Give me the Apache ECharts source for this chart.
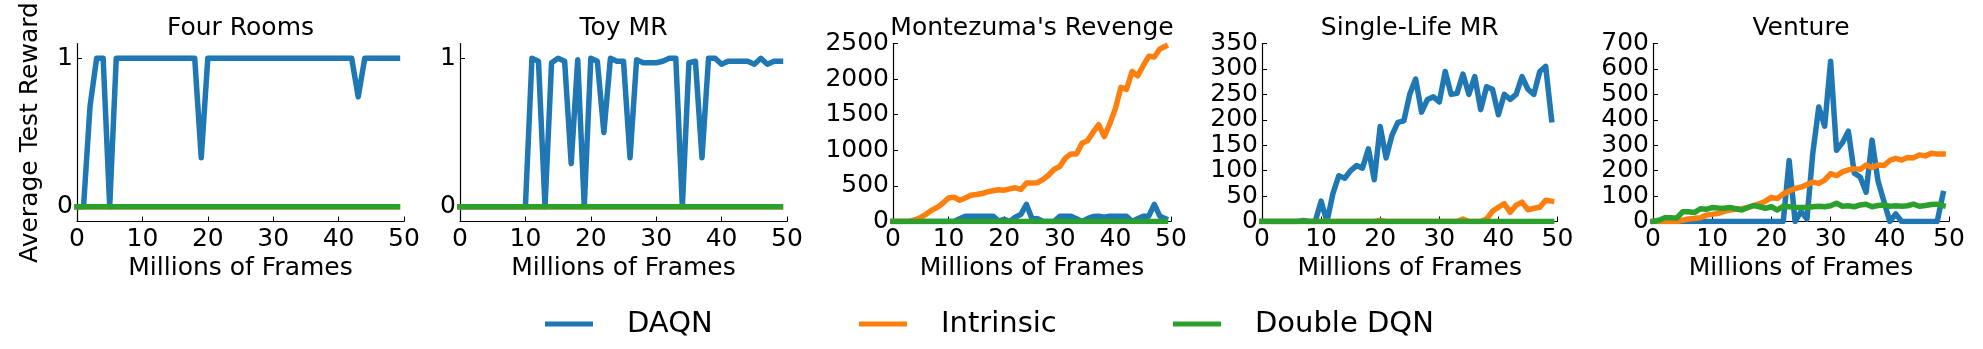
<!doctype html>
<html lang="en">
<head>
<meta charset="UTF-8">
<title>DAQN results</title>
<script src="https://cdn.jsdelivr.net/npm/echarts@6/dist/echarts.min.js"></script>
<style>
  html, body { margin: 0; padding: 0; background: #fff; }
  #main { width: 1983px; height: 349px; }
</style>
</head>
<body>
<div id="main"></div>
<script type="text/javascript">
// frames (millions) at which the agents were evaluated
var frames = [0,1,2,3,4,5,6,7,8,9,10,11,12,13,14,15,16,17,18,19,20,21,22,23,24,
              25,26,27,28,29,30,31,32,33,34,35,36,37,38,39,40,41,42,43,44,45,46,47,48,49];
var xTicks = [0, 10, 20, 30, 40, 50];

var zeros = [0,0,0,0,0,0,0,0,0,0, 0,0,0,0,0,0,0,0,0,0, 0,0,0,0,0,0,0,0,0,0,
             0,0,0,0,0,0,0,0,0,0, 0,0,0,0,0,0,0,0,0,0];

// Four Rooms
var fourRoomsDaqn = [0,0,0.68,1,1,0,1,1,1,1, 1,1,1,1,1,1,1,1,1,0.33, 1,1,1,1,1,1,1,1,1,1,
                     1,1,1,1,1,1,1,1,1,1, 1,1,1,0.74,1,1,1,1,1,1];
// Toy MR
var toyDaqn = [0,0,0,0,0,0,0,0,0,0, 0,1,0.98,0,0.97,1,0.98,0.29,0.99,0, 1,0.98,0.5,1,0.98,0.98,0.33,0.99,0.97,0.97,
               0.97,0.98,1,1,0,0.97,0.98,0.33,1,1, 0.96,0.98,0.98,0.98,0.98,0.96,1,0.96,0.98,0.98];
// Montezuma's Revenge
var mrDaqn = [0,0,0,0,0,0,0,0,0,0, 0,0,40,75,75,75,75,75,75,5, 30,0,60,100,240,40,40,0,0,0,
              75,75,75,40,0,40,70,75,60,75, 75,75,75,0,40,75,75,240,75,40];
var mrIntrinsic = [0,0,0,5,24,57,104,160,199,260, 331,341,298,331,369,379,393,417,431,445,
                   440,459,473,450,540,540,545,592,653,734, 772,890,947,947,1098,1136,1255,1359,1193,1373,
                   1586,1885,1856,2107,2045,2188,2320,2311,2424,2462];
// Single-Life MR
var slDaqn = [0,0,0,0,0,0,0,2,0,0, 40,0,55,90,85,100,110,105,143,82, 187,125,170,195,198,250,280,215,240,245,
              235,295,250,252,290,250,285,220,265,260, 210,250,240,250,285,260,250,295,305,200];
var slIntrinsic = [0,0,0,0,0,0,0,0,0,0, 0,0,0,0,0,0,0,0,0,0, 2,0,0,0,0,0,0,0,0,0,
                   0,0,0,0,5,0,0,0,5,20, 28,35,18,32,38,23,26,28,42,40];
// Venture
var ventDaqn = [0,0,0,0,0,0,0,0,0,0, 0,0,0,0,0,0,0,0,0,0, 0,0,0,240,0,40,10,270,450,375,
                630,280,310,355,190,175,115,320,160,80, 0,30,0,0,0,0,0,0,0,110];
var ventIntrinsic = [0,0,0,0,0,5,10,12,15,25, 28,32,40,45,48,50,55,62,70,80, 95,90,108,120,130,135,145,155,150,163,
                     188,180,195,203,208,205,222,212,222,220, 240,248,242,252,250,262,258,268,265,265];
var ventDouble = [0,5,15,15,13,38,38,35,50,48, 55,53,52,55,50,45,55,63,58,52, 58,45,60,58,56,55,55,58,60,58,
                  62,72,60,62,58,65,68,58,63,65, 60,62,60,62,68,60,63,67,68,62];

var titles = ['Four Rooms', 'Toy MR', "Montezuma's Revenge", 'Single-Life MR', 'Venture'];
var yMax = [1.1, 1.1, 2500, 350, 700];
var yMin = [-0.1, -0.1, 0, 0, 0];
var yStep = [1, 1, 500, 50, 100];
var panelData = [
    [fourRoomsDaqn, zeros, zeros],
    [toyDaqn, zeros, zeros],
    [mrDaqn, mrIntrinsic, zeros],
    [slDaqn, slIntrinsic, zeros],
    [ventDaqn, ventIntrinsic, ventDouble]
];
var seriesNames = ['DAQN', 'Intrinsic', 'Double DQN'];
var colors = ['#1f77b4', '#ff7f0e', '#2ca02c'];

// plot boxes (left, width) in pixels
var boxLeft = [77, 460, 893, 1262, 1653];
var boxWidth = [327, 327, 278, 295.5, 296];
var boxTop = 43.5, boxHeight = 178;

var font = 'DejaVu Sans';

function pts(vals) {
    return frames.map(function (f, i) { return [f, vals[i]]; });
}
function plain(v) { return String(v); }

var grid = [], xAxis = [], yAxis = [], series = [], title = [];
for (var p = 0; p < 5; p++) {
    grid.push({left: boxLeft[p], top: boxTop, width: boxWidth[p], height: boxHeight});
    title.push({
        text: titles[p],
        left: boxLeft[p] + boxWidth[p] / 2,
        top: 16,
        textAlign: 'center',
        padding: 0,
        textStyle: {fontFamily: font, fontSize: 25, fontWeight: 'normal', color: '#000'}
    });
    xAxis.push({
        type: 'value', gridIndex: p, min: 0, max: 50, interval: 10,
        name: 'Millions of Frames', nameLocation: 'middle', nameGap: 34,
        nameTextStyle: {fontFamily: font, fontSize: 25, color: '#000'},
        axisLine: {onZero: false, lineStyle: {color: '#000', width: 1.2}},
        axisTick: {inside: true, length: 5, lineStyle: {color: '#000'}},
        axisLabel: {fontFamily: font, fontSize: 25, color: '#000', margin: 5, formatter: plain},
        splitLine: {show: false}
    });
    var y = {
        type: 'value', gridIndex: p, min: yMin[p], max: yMax[p],
        axisLine: {show: true, onZero: false, lineStyle: {color: '#000', width: 1.2}},
        axisTick: {show: true, inside: true, length: 5, lineStyle: {color: '#000'}},
        axisLabel: {fontFamily: font, fontSize: 25, color: '#000', margin: 4, formatter: plain},
        splitLine: {show: false}
    };
    if (p < 2) {
        y.axisLabel.customValues = [0, 1];
        y.axisTick.customValues = [0, 1];
    } else {
        y.interval = yStep[p];
    }
    if (p === 0) {
        y.name = 'Average Test Reward';
        y.nameLocation = 'middle';
        y.nameGap = 34;
        y.nameTextStyle = {fontFamily: font, fontSize: 25, color: '#000'};
    }
    yAxis.push(y);
    for (var s = 0; s < 3; s++) {
        series.push({
            name: seriesNames[s], type: 'line', xAxisIndex: p, yAxisIndex: p,
            data: pts(panelData[p][s]),
            showSymbol: false, symbol: 'none',
            color: colors[s],
            lineStyle: {width: 5.5, color: colors[s], join: 'round', cap: 'square'}
        });
    }
}

var legendLeft = [545, 859, 1173];
var legend = legendLeft.map(function (x, i) {
    return {
        data: [seriesNames[i]], left: x, top: 307, padding: 0,
        icon: 'rect', itemWidth: 48, itemHeight: 5,
        textStyle: {fontFamily: font, fontSize: 29, color: '#000', lineHeight: 34, padding: [0, 0, 0, 29]}
    };
});

var myChart = echarts.init(document.getElementById('main'));
myChart.setOption({
    animation: false,
    backgroundColor: '#fff',
    color: colors,
    title: title,
    legend: legend,
    grid: grid,
    xAxis: xAxis,
    yAxis: yAxis,
    series: series
});
</script>
</body>
</html>
